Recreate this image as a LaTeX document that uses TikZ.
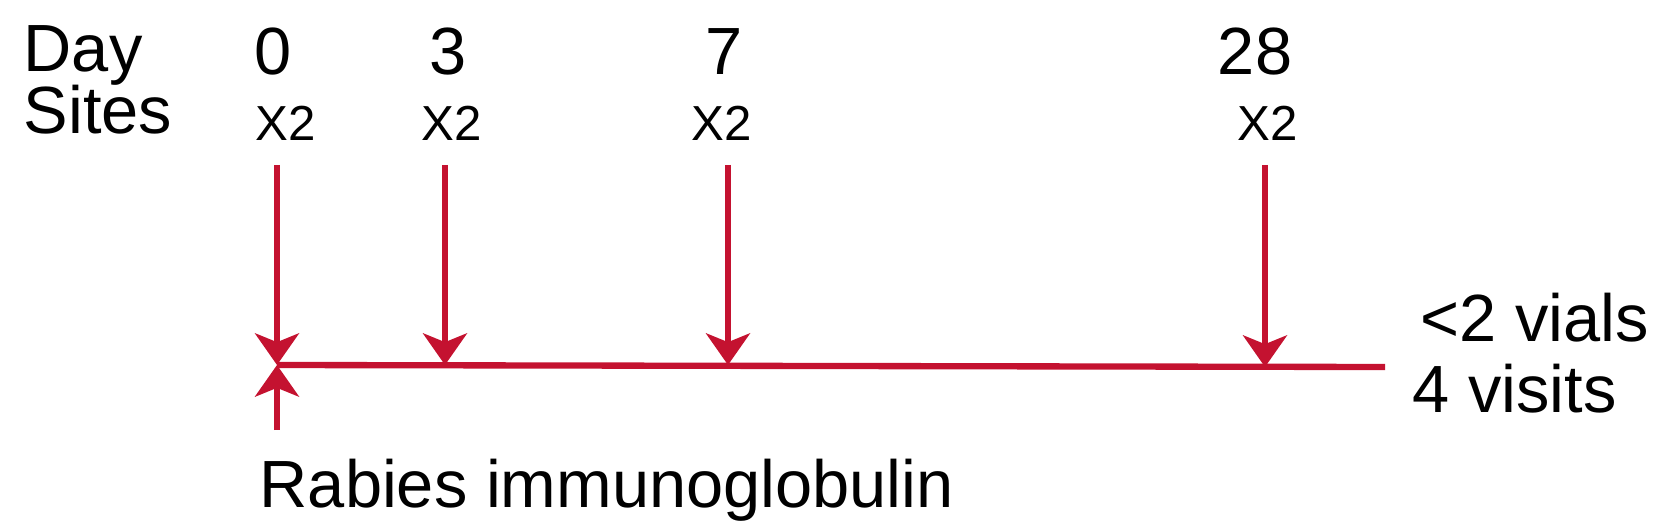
\documentclass[tikz,border=0pt]{standalone}
\usepackage{fontspec}
\setmainfont{Liberation Sans}
\usepackage{xcolor}
\usetikzlibrary{arrows.meta}
\definecolor{vacred}{RGB}{196,18,48}

\begin{document}
\begin{tikzpicture}[
  lbl/.style={font=\fontsize{19}{22}\selectfont, inner sep=0pt},
  sitelbl/.style={font=\fontsize{14}{17}\selectfont, inner sep=0pt},
  dose/.style={draw=vacred, line width=1.8pt, -{Stealth[length=9pt, width=12.5pt, inset=2.5pt]}},
  axis/.style={draw=vacred, line width=1.8pt}]
\useasboundingbox (0,0) rectangle (16.68,5.25);

% row labels
\node (day) at (0.23,4.53) [lbl, anchor=base west] {Day};
\node (sites) at (0.23,3.92) [lbl, anchor=base west] {Sites};

% days and sites
\node (d0) at (2.73,4.50) [lbl, anchor=base] {0};
\node (d3) at (4.48,4.50) [lbl, anchor=base] {3};
\node (d7) at (7.24,4.50) [lbl, anchor=base] {7};
\node (d28) at (12.55,4.50) [lbl, anchor=base] {28};
\node (s0) at (2.86,3.84) [sitelbl, anchor=base] {X2};
\node (s3) at (4.52,3.84) [sitelbl, anchor=base] {X2};
\node (s7) at (7.22,3.84) [sitelbl, anchor=base] {X2};
\node (s28) at (12.68,3.84) [sitelbl, anchor=base] {X2};

% time line
\coordinate (top0) at (2.77,3.60);
\coordinate (top3) at (4.45,3.60);
\coordinate (top7) at (7.28,3.60);
\coordinate (top28) at (12.65,3.60);
\coordinate (foot0) at (2.77,1.60);
\coordinate (foot3) at (4.45,1.60);
\coordinate (foot7) at (7.28,1.60);
\coordinate (foot28) at (12.65,1.58);
\coordinate (lineend) at (13.85,1.58);
\coordinate (rig) at (2.77,0.95);

\draw [axis] (foot0) -- (lineend);
\draw [dose] (top0) -- (foot0);
\draw [dose] (top3) -- (foot3);
\draw [dose] (top7) -- (foot7);
\draw [dose] (top28) -- (foot28);
\draw [dose] (rig) -- (foot0);

% notes
\node (vials) at (14.20,1.83) [lbl, anchor=base west] {<2 vials};
\node (visits) at (14.12,1.13) [lbl, anchor=base west] {4 visits};
\node (rabies) at (2.59,0.18) [lbl, anchor=base west] {Rabies immunoglobulin};
\end{tikzpicture}
\end{document}
